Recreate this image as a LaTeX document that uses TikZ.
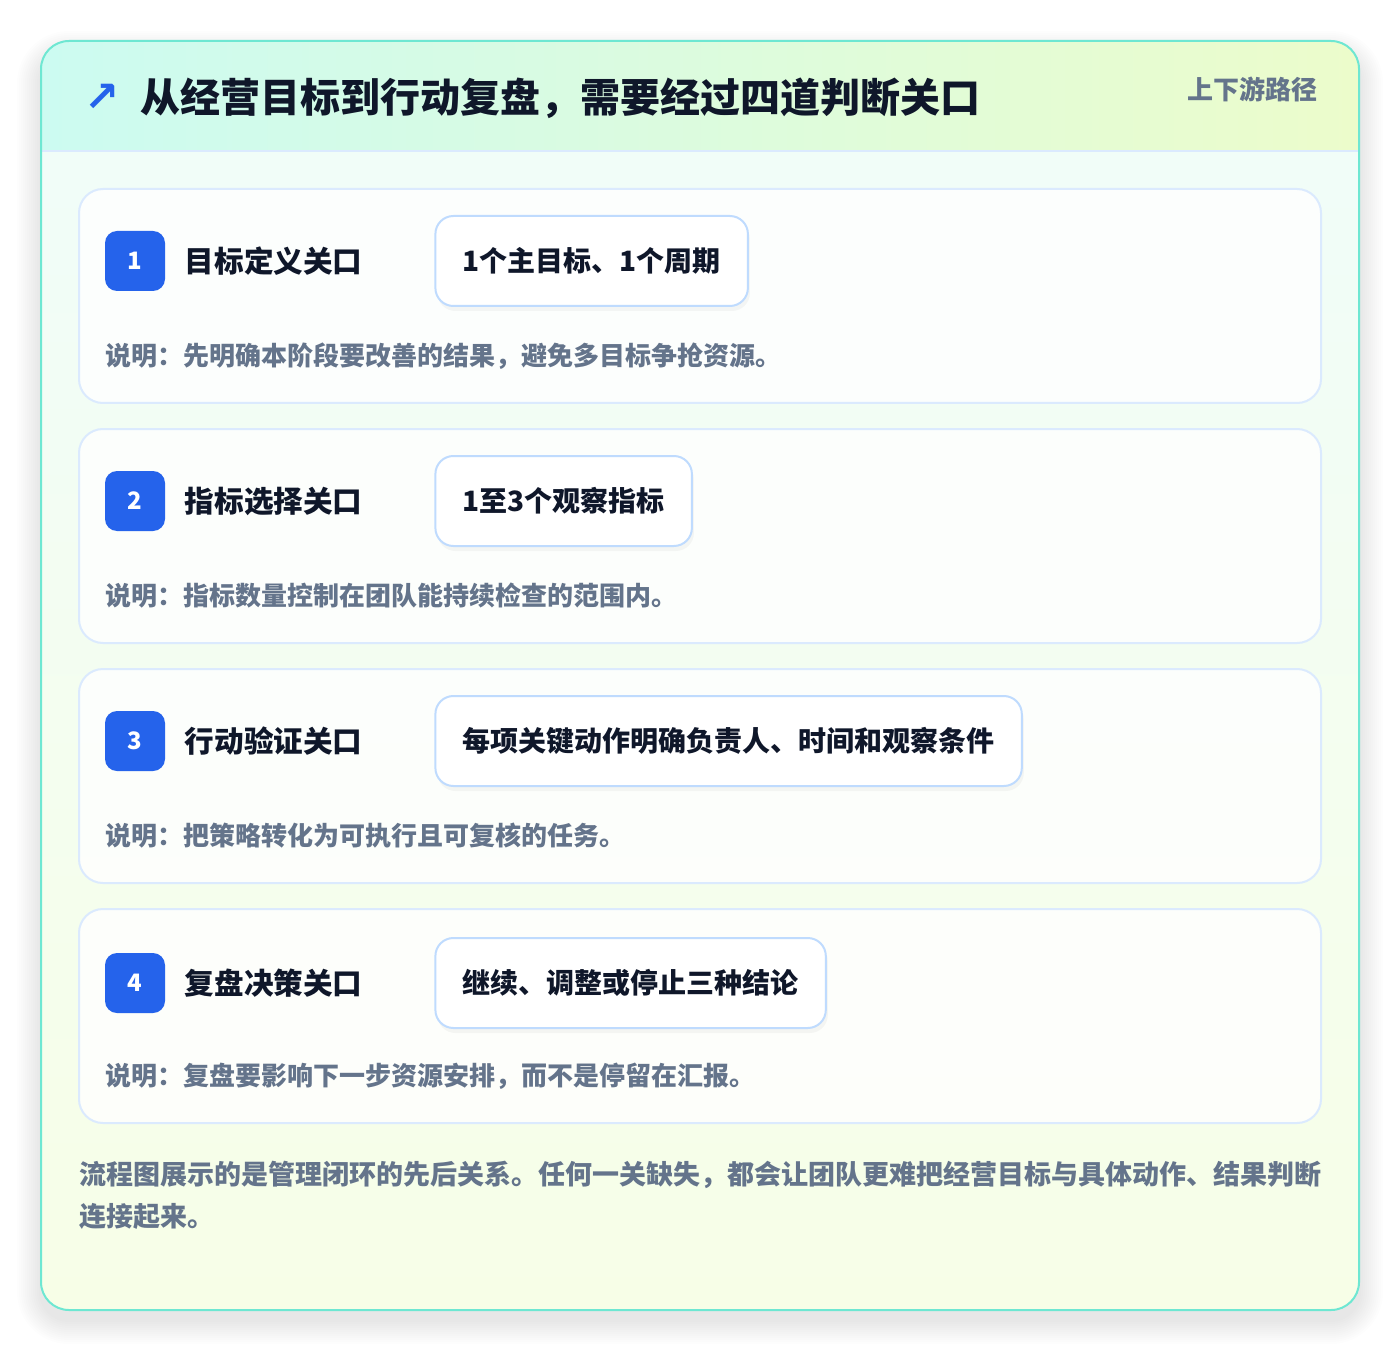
\documentclass[tikz,border=0pt]{standalone}
\usepackage{fontspec}
\setmainfont{Noto Sans CJK SC}
\newfontfamily\symfont{DejaVu Sans}
\usepackage{xcolor}
\usetikzlibrary{positioning, calc}

\definecolor{cardline}{HTML}{6EE7D2}
\definecolor{headleft}{HTML}{CCFBF1}
\definecolor{headright}{HTML}{ECFCCB}
\definecolor{bodytop}{HTML}{F0FDFA}
\definecolor{bodybot}{HTML}{F7FEE7}
\definecolor{headrule}{HTML}{DBEAFE}
\definecolor{stepedge}{HTML}{DBEAFE}
\definecolor{tagedge}{HTML}{BFDBFE}
\definecolor{accent}{HTML}{2563EB}
\definecolor{ink}{HTML}{0F172A}
\definecolor{muted}{HTML}{64748B}

\begin{document}
\begin{tikzpicture}[x=0.5pt, y=-0.5pt,
    every node/.style={inner sep=0pt, font=\bfseries},
    stepcard/.style={draw=stepedge, line width=1pt, fill=white, fill opacity=0.8,
      rounded corners=12pt, minimum width=621pt, minimum height=107pt},
    badge/.style={fill=accent, text=white, rounded corners=6pt, minimum size=30pt,
      font=\bfseries\fontsize{12}{12}\selectfont},
    gatename/.style={text=ink, anchor=west, font=\bfseries\fontsize{14.8}{16}\selectfont},
    tagbox/.style={draw=tagedge, line width=1pt, fill=white, rounded corners=9pt,
      inner xsep=13.6pt, minimum height=45pt, anchor=west, text=ink,
      font=\bfseries\fontsize{14}{16}\selectfont,
      preaction={fill=black, fill opacity=0.035, transform canvas={xshift=1pt, yshift=-2.5pt}}},
    note/.style={text=muted, anchor=west, font=\bfseries\fontsize{13}{14}\selectfont}]

    % page and frame
    \useasboundingbox (0,0) rectangle (1400,1352);
    \fill[white] (0,0) rectangle (1400,1352);
    \foreach \i in {1,...,12}
      \fill[black, opacity=0.009, rounded corners=14pt+\i*1pt]
        (41-2*\i,41-2*\i+14) rectangle (1359+2*\i,1310+2*\i+10);
    \fill[top color=bodytop, bottom color=bodybot, rounded corners=14pt] (41,41) rectangle (1359,1310);

    % header band
    \begin{scope}
      \clip[rounded corners=14pt] (41,41) rectangle (1359,1310);
      \fill[left color=headleft, right color=headright] (41,41) rectangle (1359,151);
    \end{scope}
    \draw[headrule, line width=1pt] (41,151) -- (1359,151);
    \draw[cardline, line width=1pt, rounded corners=14pt] (41,41) rectangle (1359,1310);

    % header texts
    \node[text=accent, font=\symfont\bfseries\fontsize{21}{21}\selectfont] (icon) at (102,98) {↗};
    \node[anchor=west, text=ink, font=\bfseries\fontsize{20}{24}\selectfont] (title) at (140,98)
      {从经营目标到行动复盘，需要经过四道判断关口};
    \node[anchor=east, text=muted, font=\bfseries\fontsize{13}{15}\selectfont] (route) at (1318,89)
      {上下游路径};

    % Gate 1
    \node[stepcard] (card1) at (700,296) {};
    \node[badge] (badge1) at ($(card1.north west)+(57,73)$) {1};
    \node[gatename, right=9.5pt of badge1] (gate1) {目标定义关口};
    \node[tagbox, right=134.5pt of badge1] (tag1) {1个主目标、1个周期};
    \node[note] (note1) at ($(card1.north west)+(27,168)$) {说明：先明确本阶段要改善的结果，避免多目标争抢资源。};

    % Gate 2
    \node[stepcard] (card2) at (700,536) {};
    \node[badge] (badge2) at ($(card2.north west)+(57,73)$) {2};
    \node[gatename, right=9.5pt of badge2] (gate2) {指标选择关口};
    \node[tagbox, right=134.5pt of badge2] (tag2) {1至3个观察指标};
    \node[note] (note2) at ($(card2.north west)+(27,168)$) {说明：指标数量控制在团队能持续检查的范围内。};

    % Gate 3
    \node[stepcard] (card3) at (700,776) {};
    \node[badge] (badge3) at ($(card3.north west)+(57,73)$) {3};
    \node[gatename, right=9.5pt of badge3] (gate3) {行动验证关口};
    \node[tagbox, right=134.5pt of badge3] (tag3) {每项关键动作明确负责人、时间和观察条件};
    \node[note] (note3) at ($(card3.north west)+(27,168)$) {说明：把策略转化为可执行且可复核的任务。};

    % Gate 4
    \node[stepcard] (card4) at (700,1016) {};
    \node[badge] (badge4) at ($(card4.north west)+(57,75)$) {4};
    \node[gatename, right=9.5pt of badge4] (gate4) {复盘决策关口};
    \node[tagbox, right=134.5pt of badge4] (tag4) {继续、调整或停止三种结论};
    \node[note] (note4) at ($(card4.north west)+(27,168)$) {说明：复盘要影响下一步资源安排，而不是停留在汇报。};

    % summary
    \node[anchor=north west, align=left, text=muted, font=\bfseries\fontsize{13.5}{21}\selectfont] (summary)
      at (79,1161) {流程图展示的是管理闭环的先后关系。任何一关缺失，都会让团队更难把经营目标与具体动作、结果判断\\连接起来。};
\end{tikzpicture}
\end{document}
